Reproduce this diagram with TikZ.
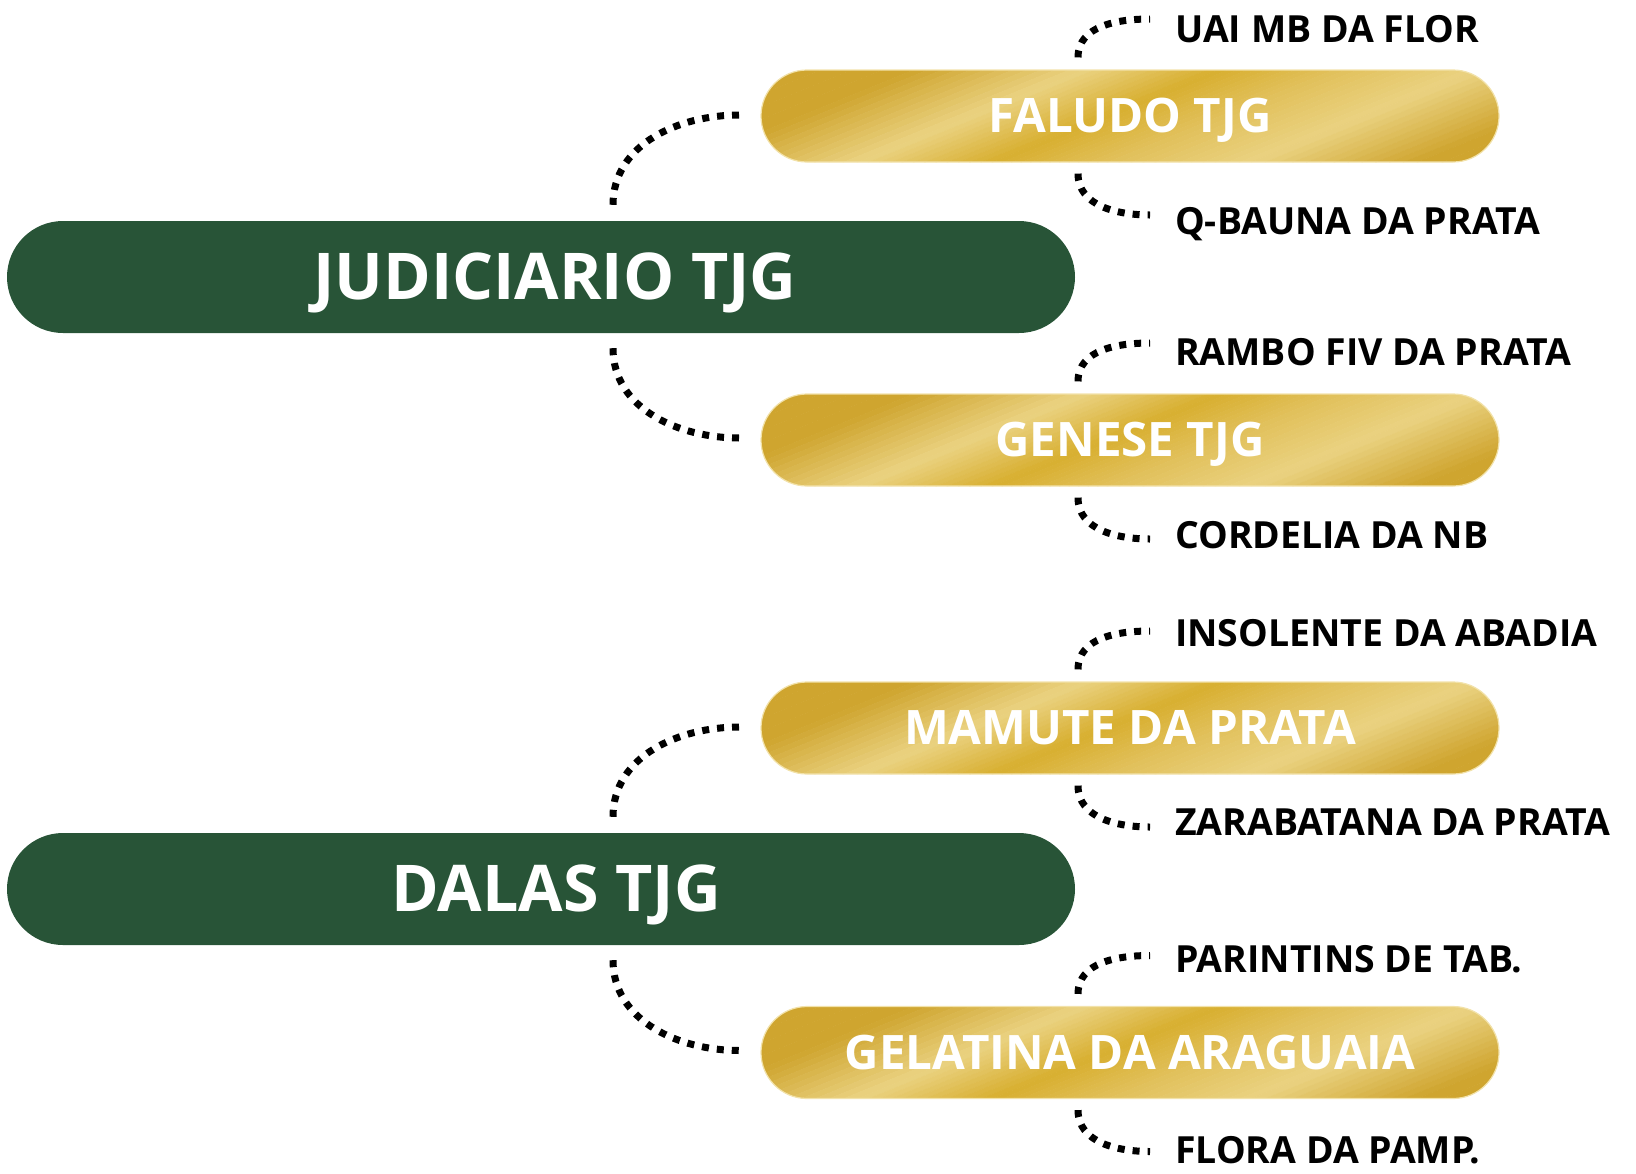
\documentclass[tikz,border=0pt]{standalone}
\usepackage{fontspec}
\setmainfont{Open Sans}
\usetikzlibrary{calc}
\definecolor{darkgreen}{HTML}{285437}
\definecolor{gA}{HTML}{CFA52F}
\definecolor{gB}{HTML}{D8AF30}
\definecolor{gM}{HTML}{E1C05A}
\definecolor{gL}{HTML}{EAD281}
\definecolor{goldedge}{HTML}{F2E2AA}
\tikzset{
  greenbox/.style={fill=darkgreen, rounded corners=56pt, minimum width=1068pt, minimum height=112pt,
    text=white, font=\bfseries\fontsize{64.5pt}{64.5pt}\selectfont, text height=45pt, text depth=0pt, inner sep=0pt},
  goldbox/.style={draw=goldedge, line width=1.2pt,
    rounded corners=46pt, minimum width=738pt, minimum height=92pt,
    text=white, font=\bfseries\fontsize{47.5pt}{47.5pt}\selectfont, text height=33pt, text depth=0pt, inner sep=0pt},
  leaf/.style={anchor=west, inner sep=0pt, text=black, font=\bfseries\fontsize{37.4pt}{37.4pt}\selectfont,
    text height=27pt, text depth=0pt},
  dotline/.style={line width=7pt, dash pattern=on 7pt off 8pt, black}
}
% gold pill with diagonal stripes: #1 name, #2 x, #3 y, #4 text
\newcommand{\goldnode}[4]{%
  \begin{scope}
    \clip[rounded corners=46pt] (#2-369,#3-46) rectangle (#2+369,#3+46);
    \foreach \pa/\pb/\ca/\cb in {-700/-330/gA/gA, -330/-160/gA/gL, -160/-25/gL/gB, -25/90/gB/gM, 90/234/gM/gL, 234/400/gL/gA, 400/700/gA/gA}{
      \foreach \i in {0,...,11}{
        \pgfmathsetmacro\xa{#2+\pa+(\pb-\pa)*\i/12}
        \pgfmathsetmacro\xb{#2+\pa+(\pb-\pa)*(\i+1)/12+1}
        \pgfmathtruncatemacro\mx{100*(\i+0.5)/12}
        \fill[\cb!\mx!\ca] (\xa-171.5,#3-70) -- (\xb-171.5,#3-70) -- (\xb+171.5,#3+70) -- (\xa+171.5,#3+70) -- cycle;
      }
    }
  \end{scope}
  \node[goldbox] (#1) at (#2,#3) {#4};
}
\begin{document}
\begin{tikzpicture}[x=1pt,y=1pt]
\useasboundingbox (0,0) rectangle (1636,-1173);
% main nodes
\node[greenbox] (j) at (541,-277) {\hspace*{28pt}JUDICIARIO TJG};
\node[greenbox] (d) at (541,-889) {\hspace*{30pt}DALAS TJG};
\goldnode{g1}{1130}{-116}{FALUDO TJG}
\goldnode{g2}{1130}{-440}{GENESE TJG}
\goldnode{g3}{1130}{-728}{MAMUTE DA PRATA}
\goldnode{g4}{1130}{-1052.5}{GELATINA DA ARAGUAIA}
% leaves
\node[leaf] (l1) at (1175,-28.5) {UAI MB DA FLOR};
\node[leaf] (l2) at (1175,-221) {Q-BAUNA DA PRATA};
\node[leaf] (l3) at (1175,-352) {RAMBO FIV DA PRATA};
\node[leaf] (l4) at (1175,-535) {CORDELIA DA NB};
\node[leaf] (l5) at (1175,-633) {INSOLENTE DA ABADIA};
\node[leaf] (l6) at (1175,-822) {ZARABATANA DA PRATA};
\node[leaf] (l7) at (1175,-958.5) {PARINTINS DE TAB.};
\node[leaf] (l8) at (1175,-1150) {FLORA DA PAMP.};
% main connectors
\draw[dotline] ($(j.north)+(72,16)$) to[out=90,in=180] ($(g1.west)+(-21,1)$);
\draw[dotline] ($(j.south)+(72,-15)$) to[out=-90,in=180] ($(g2.west)+(-21,2)$);
\draw[dotline] ($(d.north)+(72,16)$) to[out=90,in=180] ($(g3.west)+(-21,1)$);
\draw[dotline] ($(d.south)+(72,-15)$) to[out=-90,in=180] ($(g4.west)+(-21,2)$);
% leaf connectors
\foreach \g in {g1,g2,g3,g4}{
  \draw[dotline] ($(\g.north)+(-52,12)$) to[out=90,in=180] ($(\g.center)+(20,97)$);
  \draw[dotline] ($(\g.south)+(-52,-11)$) to[out=-90,in=180] ($(\g.center)+(20,-99)$);
}
\end{tikzpicture}
\end{document}
